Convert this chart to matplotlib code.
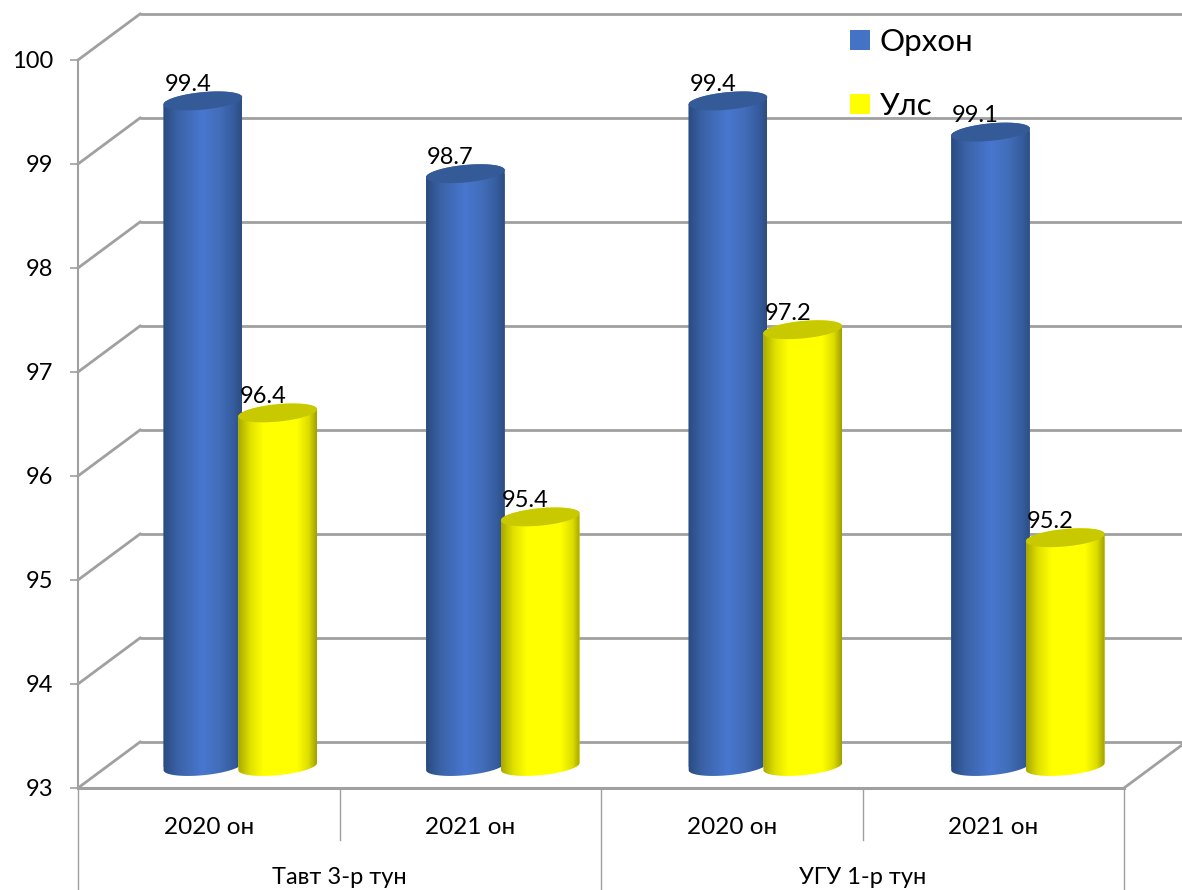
import numpy as np
import matplotlib
matplotlib.use("Agg")
import matplotlib.pyplot as plt
from matplotlib.colors import LinearSegmentedColormap
from matplotlib.patches import Patch, Polygon
from matplotlib.path import Path
from matplotlib.transforms import IdentityTransform, ScaledTranslation

plt.rcParams['font.family'] = ['Lato', 'Open Sans', 'DejaVu Sans']

# ---- data ----
years = ["2020 он", "2021 он", "2020 он", "2021 он"]
groups = ["Тавт 3-р тун", "УГУ 1-р тун"]
series_names = ["Орхон", "Улс"]
orkhon = [99.4, 98.7, 99.4, 99.1]
uls = [96.4, 95.4, 97.2, 95.2]
yticks = [93, 94, 95, 96, 97, 98, 99, 100]

W, H = 1182, 890
GRID = "#a0a0a0"
DX, DY = 62, 46            # depth of the 3-D box, px
BDX, BDY = 31, 21.5        # depth shift of the cylinders, px
A, B, TILT = 39.5, 8.7, np.deg2rad(5.5)
PITCH = 1.004

fig = plt.figure(figsize=(W / 100, H / 100), dpi=100, facecolor="white")
ax = fig.add_axes([78 / W, 1 - 788 / H, (1124 - 78) / W, (788 - 60) / H])
ax.set_xlim(0, 4)
ax.set_ylim(93, 100)
ax.autoscale(False)
ax.patch.set_alpha(0)
for s in ("top", "right"):
    ax.spines[s].set_visible(False)
for s in ("left", "bottom"):
    ax.spines[s].set_color(GRID)
ax.spines["left"].set_linewidth(1.5)
ax.spines["bottom"].set_linewidth(2.2)
ax.set_yticks(yticks)
ax.tick_params(axis="y", length=6, width=1.2, color=GRID, pad=12, labelsize=17,
               labelcolor="black")
ax.set_xticks([])
for lab in ax.get_yticklabels():
    lab.set_verticalalignment("center_baseline")

depth = ax.transData + ScaledTranslation(DX / 100, DY / 100, fig.dpi_scale_trans)
# back wall, side diagonals and floor
for v in yticks:
    ax.plot([0, 4.3], [v, v], color=GRID, lw=2.0, transform=depth, clip_on=False, zorder=1,
            solid_capstyle="butt")
    (x0, y0) = ax.transData.transform((0, v))
    ax.plot([x0, x0 + DX], [y0, y0 + DY], color=GRID, lw=2.0,
            transform=IdentityTransform(), clip_on=False, zorder=1)
(x1, y1) = ax.transData.transform((4, 93))
ax.plot([x1, x1 + DX], [y1, y1 + DY], color=GRID, lw=2.0,
        transform=IdentityTransform(), clip_on=False, zorder=1)

# multi-level category axis
for x, drop in zip([0, 1, 2, 3, 4], [102, 52, 102, 52, 102]):
    (px, py) = ax.transData.transform((x, 93))
    ax.plot([px, px], [py, py - drop], color=GRID, lw=1.0,
            transform=IdentityTransform(), clip_on=False, zorder=1)
for i, lab in enumerate(years):
    ax.annotate(lab, xy=(i + 0.5, 93), xytext=(0, -39), textcoords="offset pixels",
                ha="center", va="center", fontsize=17.5, annotation_clip=False)
for i, lab in enumerate(groups):
    ax.annotate(lab, xy=(2 * i + 1, 93), xytext=(0, -89), textcoords="offset pixels",
                ha="center", va="center", fontsize=17, annotation_clip=False)

# cylinders
blue_cmap = LinearSegmentedColormap.from_list(
    "b", [(0, "#2a4b80"), (0.18, "#3a62a6"), (0.5, "#4877d0"), (0.72, "#426db9"),
          (0.9, "#355c9e"), (1, "#2e4d80")])
yellow_cmap = LinearSegmentedColormap.from_list(
    "y", [(0, "#a8a800"), (0.15, "#e0e000"), (0.32, "#ffff00"), (0.75, "#ffff00"),
          (0.9, "#dcdc00"), (1, "#a0a000")])
top_colors = ["#355a98", "#c9c900"]
side_colors = ["#4472c4", "#ffff00"]
offsets = [-0.143, 0.143]
bar_w = 2 * A / ((1124 - 78) / 4)
gradient = np.linspace(0, 1, 128).reshape(1, -1)
shift = ax.transData + ScaledTranslation(BDX / 100, BDY / 100, fig.dpi_scale_trans)


def ellipse_pts(cx, cy, t):
    ex = A * np.cos(t)
    ey = B * np.sin(t)
    return np.c_[cx + ex * np.cos(TILT) - ey * np.sin(TILT),
                 cy + ex * np.sin(TILT) + ey * np.cos(TILT)]


for k in range(4):
    for s, vals in enumerate([orkhon, uls]):
        x = (k + 0.5) * PITCH + offsets[s]
        v = vals[k]
        z = 3 + k * 2 + s
        rect = ax.bar(x, v - 93, bottom=93, width=bar_w, color=side_colors[s],
                      transform=shift, zorder=z)[0]
        (cx, ctop) = shift.transform((x, v))
        (_, cbot) = shift.transform((x, 93))
        top_half = ellipse_pts(cx, ctop, np.linspace(0, np.pi, 60))
        bottom_half = ellipse_pts(cx, cbot, np.linspace(np.pi, 2 * np.pi, 60))
        body = Path(np.vstack([top_half, bottom_half, top_half[:1]]), closed=True)
        rect.set_clip_path(body, IdentityTransform())
        im = ax.imshow(gradient, cmap=[blue_cmap, yellow_cmap][s], aspect="auto",
                       extent=(x - bar_w / 2, x + bar_w / 2, 92, 101), zorder=z,
                       transform=shift, interpolation="bilinear")
        im.set_clip_path(body, IdentityTransform())
        ax.add_patch(Polygon(ellipse_pts(cx, ctop, np.linspace(0, 2 * np.pi, 120)),
                             closed=True, facecolor=top_colors[s], edgecolor="none",
                             transform=IdentityTransform(), zorder=z, clip_on=False))
        ax.annotate(f"{v:.1f}", xy=(x, v), xytext=(BDX - 15, 38), textcoords="offset pixels",
                    ha="center", va="center", fontsize=17, zorder=20, annotation_clip=False)

ax.set_xlim(0, 4)
ax.set_ylim(93, 100)

handles = [Patch(facecolor=c, edgecolor="none") for c in side_colors]
leg = ax.legend(handles, series_names, loc="upper left", frameon=False, fontsize=22.5,
                bbox_to_anchor=(850 / W, 1 - 28 / H), bbox_transform=fig.transFigure,
                handlelength=0.65, handleheight=0.65, handletextpad=0.3,
                labelspacing=1.15, borderpad=0, borderaxespad=0)
leg.set_zorder(25)

fig.savefig("out.png", dpi=100)
